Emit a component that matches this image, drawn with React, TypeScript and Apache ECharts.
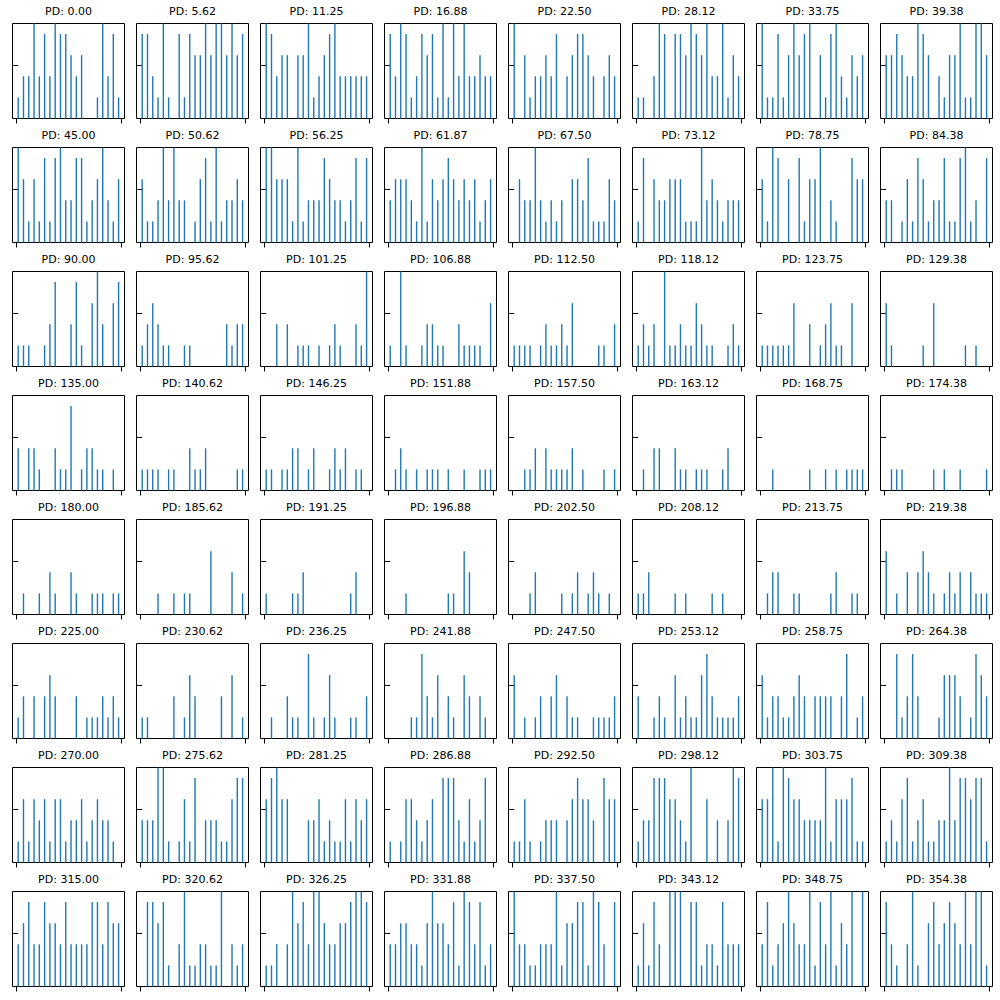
import React, { useEffect, useRef } from 'react';
import * as echarts from 'echarts';

// bin positions on the x axis (one thin bar per bin)
const bins = [0, 1, 2, 3, 4, 5, 6, 7, 8, 9, 10, 11, 12, 13, 14, 15, 16, 17, 18, 19];

const pdLabels = [
  '0.00', '5.62', '11.25', '16.88', '22.50', '28.12', '33.75', '39.38',
  '45.00', '50.62', '56.25', '61.87', '67.50', '73.12', '78.75', '84.38',
  '90.00', '95.62', '101.25', '106.88', '112.50', '118.12', '123.75', '129.38',
  '135.00', '140.62', '146.25', '151.88', '157.50', '163.12', '168.75', '174.38',
  '180.00', '185.62', '191.25', '196.88', '202.50', '208.12', '213.75', '219.38',
  '225.00', '230.62', '236.25', '241.88', '247.50', '253.12', '258.75', '264.38',
  '270.00', '275.62', '281.25', '286.88', '292.50', '298.12', '303.75', '309.38',
  '315.00', '320.62', '326.25', '331.88', '337.50', '343.12', '348.75', '354.38',
];

// counts per bin, one array per panel, row by row
const row1 = [
  [1, 2, 2, 5, 2, 4, 2, 5, 4, 4, 3, 2, 3, 0, 0, 1, 5, 2, 4, 1],
  [4, 4, 2, 1, 5, 1, 0, 4, 1, 4, 3, 3, 5, 3, 5, 5, 3, 5, 3, 4],
  [5, 4, 2, 3, 3, 0, 3, 3, 5, 1, 2, 3, 4, 5, 2, 2, 2, 2, 2, 2],
  [4, 2, 5, 4, 1, 2, 4, 3, 4, 1, 5, 1, 5, 2, 5, 2, 2, 3, 2, 2],
  [5, 0, 3, 1, 2, 2, 3, 2, 4, 0, 2, 3, 4, 4, 3, 2, 0, 2, 3, 2],
  [1, 1, 0, 2, 5, 4, 0, 4, 4, 3, 5, 4, 3, 5, 2, 2, 5, 1, 3, 2],
  [5, 1, 1, 4, 1, 3, 5, 3, 4, 5, 0, 3, 1, 4, 5, 2, 1, 3, 2, 3],
  [3, 3, 4, 3, 2, 2, 5, 4, 3, 0, 2, 1, 3, 3, 5, 1, 1, 5, 5, 3],
];
const row2 = [
  [5, 3, 1, 3, 1, 4, 1, 4, 5, 2, 2, 4, 4, 1, 2, 3, 5, 2, 1, 3],
  [3, 1, 1, 2, 5, 2, 5, 2, 2, 0, 1, 3, 4, 1, 5, 1, 2, 2, 3, 2],
  [5, 5, 3, 3, 3, 1, 5, 1, 2, 2, 2, 4, 3, 2, 2, 1, 2, 4, 1, 4],
  [2, 3, 3, 3, 2, 1, 5, 1, 3, 2, 3, 4, 3, 2, 3, 2, 3, 1, 2, 3],
  [0, 3, 2, 2, 5, 2, 1, 2, 1, 2, 0, 3, 3, 2, 4, 1, 1, 1, 3, 2],
  [1, 4, 0, 3, 2, 2, 3, 3, 3, 1, 1, 1, 5, 2, 3, 2, 1, 2, 2, 2],
  [3, 1, 5, 4, 0, 3, 0, 4, 1, 3, 3, 5, 0, 2, 1, 0, 0, 4, 3, 3],
  [2, 2, 0, 1, 3, 1, 4, 3, 1, 2, 2, 4, 1, 1, 4, 5, 1, 2, 0, 4],
];
const row3 = [
  [1, 1, 1, 0, 0, 1, 2, 4, 0, 0, 2, 4, 1, 0, 3, 5, 2, 0, 3, 4],
  [1, 2, 3, 2, 1, 1, 0, 0, 1, 1, 0, 0, 0, 0, 0, 0, 2, 1, 2, 2],
  [0, 0, 2, 0, 2, 0, 1, 1, 1, 0, 1, 0, 1, 2, 1, 0, 0, 2, 1, 5],
  [1, 0, 5, 1, 0, 0, 1, 2, 2, 1, 1, 0, 0, 2, 1, 1, 1, 1, 0, 3],
  [1, 1, 1, 1, 0, 1, 2, 1, 1, 2, 1, 3, 0, 0, 0, 0, 1, 1, 0, 2],
  [1, 2, 1, 2, 0, 5, 1, 1, 2, 1, 1, 3, 2, 1, 1, 0, 0, 1, 2, 1],
  [1, 1, 1, 1, 1, 1, 3, 0, 0, 2, 0, 1, 2, 3, 1, 1, 0, 3, 0, 0],
  [3, 1, 0, 0, 0, 0, 0, 1, 0, 3, 0, 0, 0, 0, 0, 1, 0, 1, 0, 0],
];
const row4 = [
  [2, 0, 2, 2, 1, 0, 0, 2, 1, 1, 4, 0, 1, 2, 2, 1, 1, 0, 1, 0],
  [1, 1, 1, 1, 0, 1, 1, 0, 0, 2, 1, 1, 2, 0, 0, 0, 0, 0, 1, 1],
  [1, 1, 0, 1, 1, 2, 2, 0, 1, 2, 0, 0, 1, 2, 1, 2, 0, 1, 1, 0],
  [0, 1, 2, 1, 0, 1, 0, 1, 1, 1, 0, 1, 0, 0, 1, 0, 0, 1, 1, 1],
  [0, 0, 1, 1, 2, 0, 2, 1, 1, 1, 1, 2, 0, 1, 0, 0, 0, 1, 0, 1],
  [0, 1, 0, 2, 2, 0, 0, 2, 1, 1, 0, 1, 1, 1, 0, 0, 1, 2, 0, 0],
  [0, 0, 1, 0, 0, 0, 0, 0, 0, 1, 0, 0, 1, 0, 1, 0, 1, 1, 1, 1],
  [0, 1, 1, 1, 0, 0, 0, 0, 0, 1, 0, 1, 0, 0, 1, 0, 0, 0, 0, 1],
];
const row5 = [
  [0, 1, 0, 0, 1, 0, 2, 1, 0, 0, 2, 1, 0, 0, 1, 1, 1, 0, 1, 1],
  [0, 0, 0, 1, 0, 0, 1, 0, 1, 1, 0, 0, 0, 3, 0, 0, 0, 2, 0, 1],
  [1, 0, 0, 0, 0, 1, 1, 2, 0, 0, 0, 0, 0, 0, 0, 0, 1, 2, 0, 0],
  [0, 0, 0, 1, 0, 0, 0, 0, 0, 0, 0, 1, 1, 0, 3, 2, 0, 0, 0, 0],
  [0, 0, 0, 1, 2, 0, 0, 0, 0, 1, 0, 1, 2, 0, 1, 2, 1, 0, 1, 0],
  [1, 1, 2, 0, 0, 0, 0, 1, 0, 1, 0, 0, 0, 0, 1, 0, 1, 0, 0, 0],
  [0, 1, 2, 2, 0, 0, 1, 1, 0, 0, 0, 0, 0, 1, 2, 0, 0, 1, 1, 0],
  [3, 0, 1, 0, 2, 0, 2, 3, 2, 1, 0, 1, 2, 1, 2, 0, 2, 1, 1, 1],
];
const row6 = [
  [1, 2, 0, 2, 0, 2, 3, 2, 0, 0, 0, 2, 0, 1, 1, 1, 2, 1, 2, 1],
  [1, 1, 0, 0, 0, 0, 2, 0, 1, 3, 2, 0, 0, 0, 0, 2, 0, 3, 0, 1],
  [0, 1, 0, 0, 2, 1, 1, 0, 4, 1, 0, 1, 3, 1, 0, 0, 1, 1, 0, 2],
  [0, 0, 0, 0, 1, 1, 4, 2, 1, 3, 0, 2, 1, 0, 3, 2, 0, 2, 1, 0],
  [3, 0, 1, 0, 1, 2, 0, 2, 3, 0, 2, 1, 1, 0, 0, 1, 1, 1, 1, 2],
  [2, 0, 0, 1, 2, 1, 0, 3, 1, 2, 1, 1, 3, 4, 2, 1, 1, 1, 1, 2],
  [3, 1, 2, 2, 1, 1, 2, 3, 2, 0, 2, 2, 2, 2, 0, 2, 4, 0, 1, 2],
  [0, 0, 4, 1, 2, 4, 2, 0, 0, 0, 1, 3, 3, 3, 2, 0, 1, 4, 3, 2],
];
const row7 = [
  [1, 3, 1, 3, 2, 3, 1, 3, 3, 1, 2, 2, 3, 1, 2, 3, 2, 2, 1, 0],
  [2, 2, 2, 5, 5, 1, 0, 1, 3, 1, 4, 0, 2, 2, 2, 1, 1, 3, 4, 4],
  [3, 4, 5, 3, 3, 0, 0, 0, 2, 2, 3, 1, 2, 1, 1, 3, 1, 3, 2, 3],
  [1, 0, 1, 3, 3, 2, 1, 2, 3, 0, 4, 4, 4, 2, 1, 3, 1, 2, 4, 0],
  [1, 1, 3, 1, 0, 1, 2, 2, 2, 0, 2, 3, 4, 3, 3, 2, 0, 4, 3, 3],
  [1, 2, 2, 4, 4, 4, 3, 3, 2, 1, 5, 0, 0, 3, 0, 2, 0, 2, 5, 4],
  [3, 3, 5, 1, 5, 4, 3, 3, 2, 2, 2, 2, 5, 1, 3, 3, 3, 4, 1, 1],
  [1, 2, 1, 3, 4, 1, 2, 3, 1, 1, 2, 2, 5, 2, 4, 4, 3, 4, 4, 1],
];
const row8 = [
  [2, 3, 4, 2, 2, 4, 3, 3, 2, 4, 2, 2, 2, 2, 4, 4, 2, 4, 3, 3],
  [0, 4, 4, 3, 4, 1, 0, 2, 5, 1, 1, 2, 2, 1, 1, 5, 0, 2, 1, 2],
  [1, 1, 2, 0, 2, 5, 3, 4, 2, 5, 5, 3, 2, 2, 3, 3, 4, 5, 5, 4],
  [2, 2, 3, 3, 2, 2, 1, 3, 5, 3, 3, 2, 4, 1, 5, 4, 2, 4, 1, 2],
  [5, 2, 2, 1, 1, 2, 2, 2, 5, 1, 3, 3, 4, 4, 1, 5, 4, 2, 0, 4],
  [1, 3, 1, 4, 2, 0, 5, 5, 5, 0, 4, 4, 1, 2, 2, 1, 4, 2, 2, 2],
  [2, 4, 1, 2, 3, 5, 3, 2, 2, 5, 1, 4, 2, 5, 1, 3, 2, 5, 0, 5],
  [4, 2, 1, 0, 2, 5, 1, 0, 3, 4, 2, 3, 4, 3, 2, 5, 2, 5, 5, 1],
];

const xTicks = [-0.45, 19.55];
const yTicks = [0, 2.5];

const panels = [...row1, ...row2, ...row3, ...row4, ...row5, ...row6, ...row7, ...row8];

const App: React.FC = () => {
  const chartRef = useRef<HTMLDivElement>(null);

  useEffect(() => {
    if (!chartRef.current) return;
    const chart = echarts.init(chartRef.current, undefined, { renderer: 'svg' });

    const grids: any[] = [];
    const xAxes: any[] = [];
    const yAxes: any[] = [];
    const series: any[] = [];
    const titles: any[] = [];

    const tickStyle = { color: '#000', width: 1 };

    panels.forEach((counts, i) => {
      const col = i % 8;
      const row = Math.floor(i / 8);
      const left = Math.floor(12 + col * 124.1) + 0.5;
      const top = Math.floor(23 + row * 124.1) + 0.5;

      grids.push({
        left,
        top,
        width: 112,
        height: 95,
        show: true,
        borderColor: '#000',
        borderWidth: 1,
        backgroundColor: 'transparent',
        containLabel: false,
        outerBoundsMode: 'none',
      });
      xAxes.push({
        type: 'value',
        gridIndex: i,
        min: -1.08,
        max: 20.12,
        axisLine: { show: false },
        splitLine: { show: false },
        axisLabel: { show: false },
        axisTick: { show: true, inside: false, length: 5, lineStyle: tickStyle, customValues: xTicks },
      });
      yAxes.push({
        type: 'value',
        gridIndex: i,
        min: 0,
        max: 4.5,
        axisLine: { show: false },
        splitLine: { show: false },
        axisLabel: { show: false },
        axisTick: { show: true, inside: false, length: 5, lineStyle: tickStyle, customValues: yTicks },
      });
      series.push({
        type: 'bar',
        xAxisIndex: i,
        yAxisIndex: i,
        data: bins.map((b, j) => [b, counts[j]]),
        barWidth: 1.4,
        clip: true,
        silent: true,
        itemStyle: { color: '#1f77b4' },
      });
      titles.push({
        type: 'text',
        x: left + 56,
        y: top - 12,
        silent: true,
        style: {
          text: 'PD: ' + pdLabels[i],
          align: 'center',
          verticalAlign: 'middle',
          fontSize: 11,
          fontFamily: 'DejaVu Sans',
          fill: '#000',
        },
      });
    });

    chart.setOption({
      animation: false,
      grid: grids,
      xAxis: xAxes,
      yAxis: yAxes,
      series,
      graphic: titles,
    });

    return () => {
      chart.dispose();
    };
  }, []);

  return (
    <div
      ref={chartRef}
      style={{ position: 'absolute', left: 0, top: 0, width: 1000, height: 1000, background: '#fff' }}
    />
  );
};

export default App;
